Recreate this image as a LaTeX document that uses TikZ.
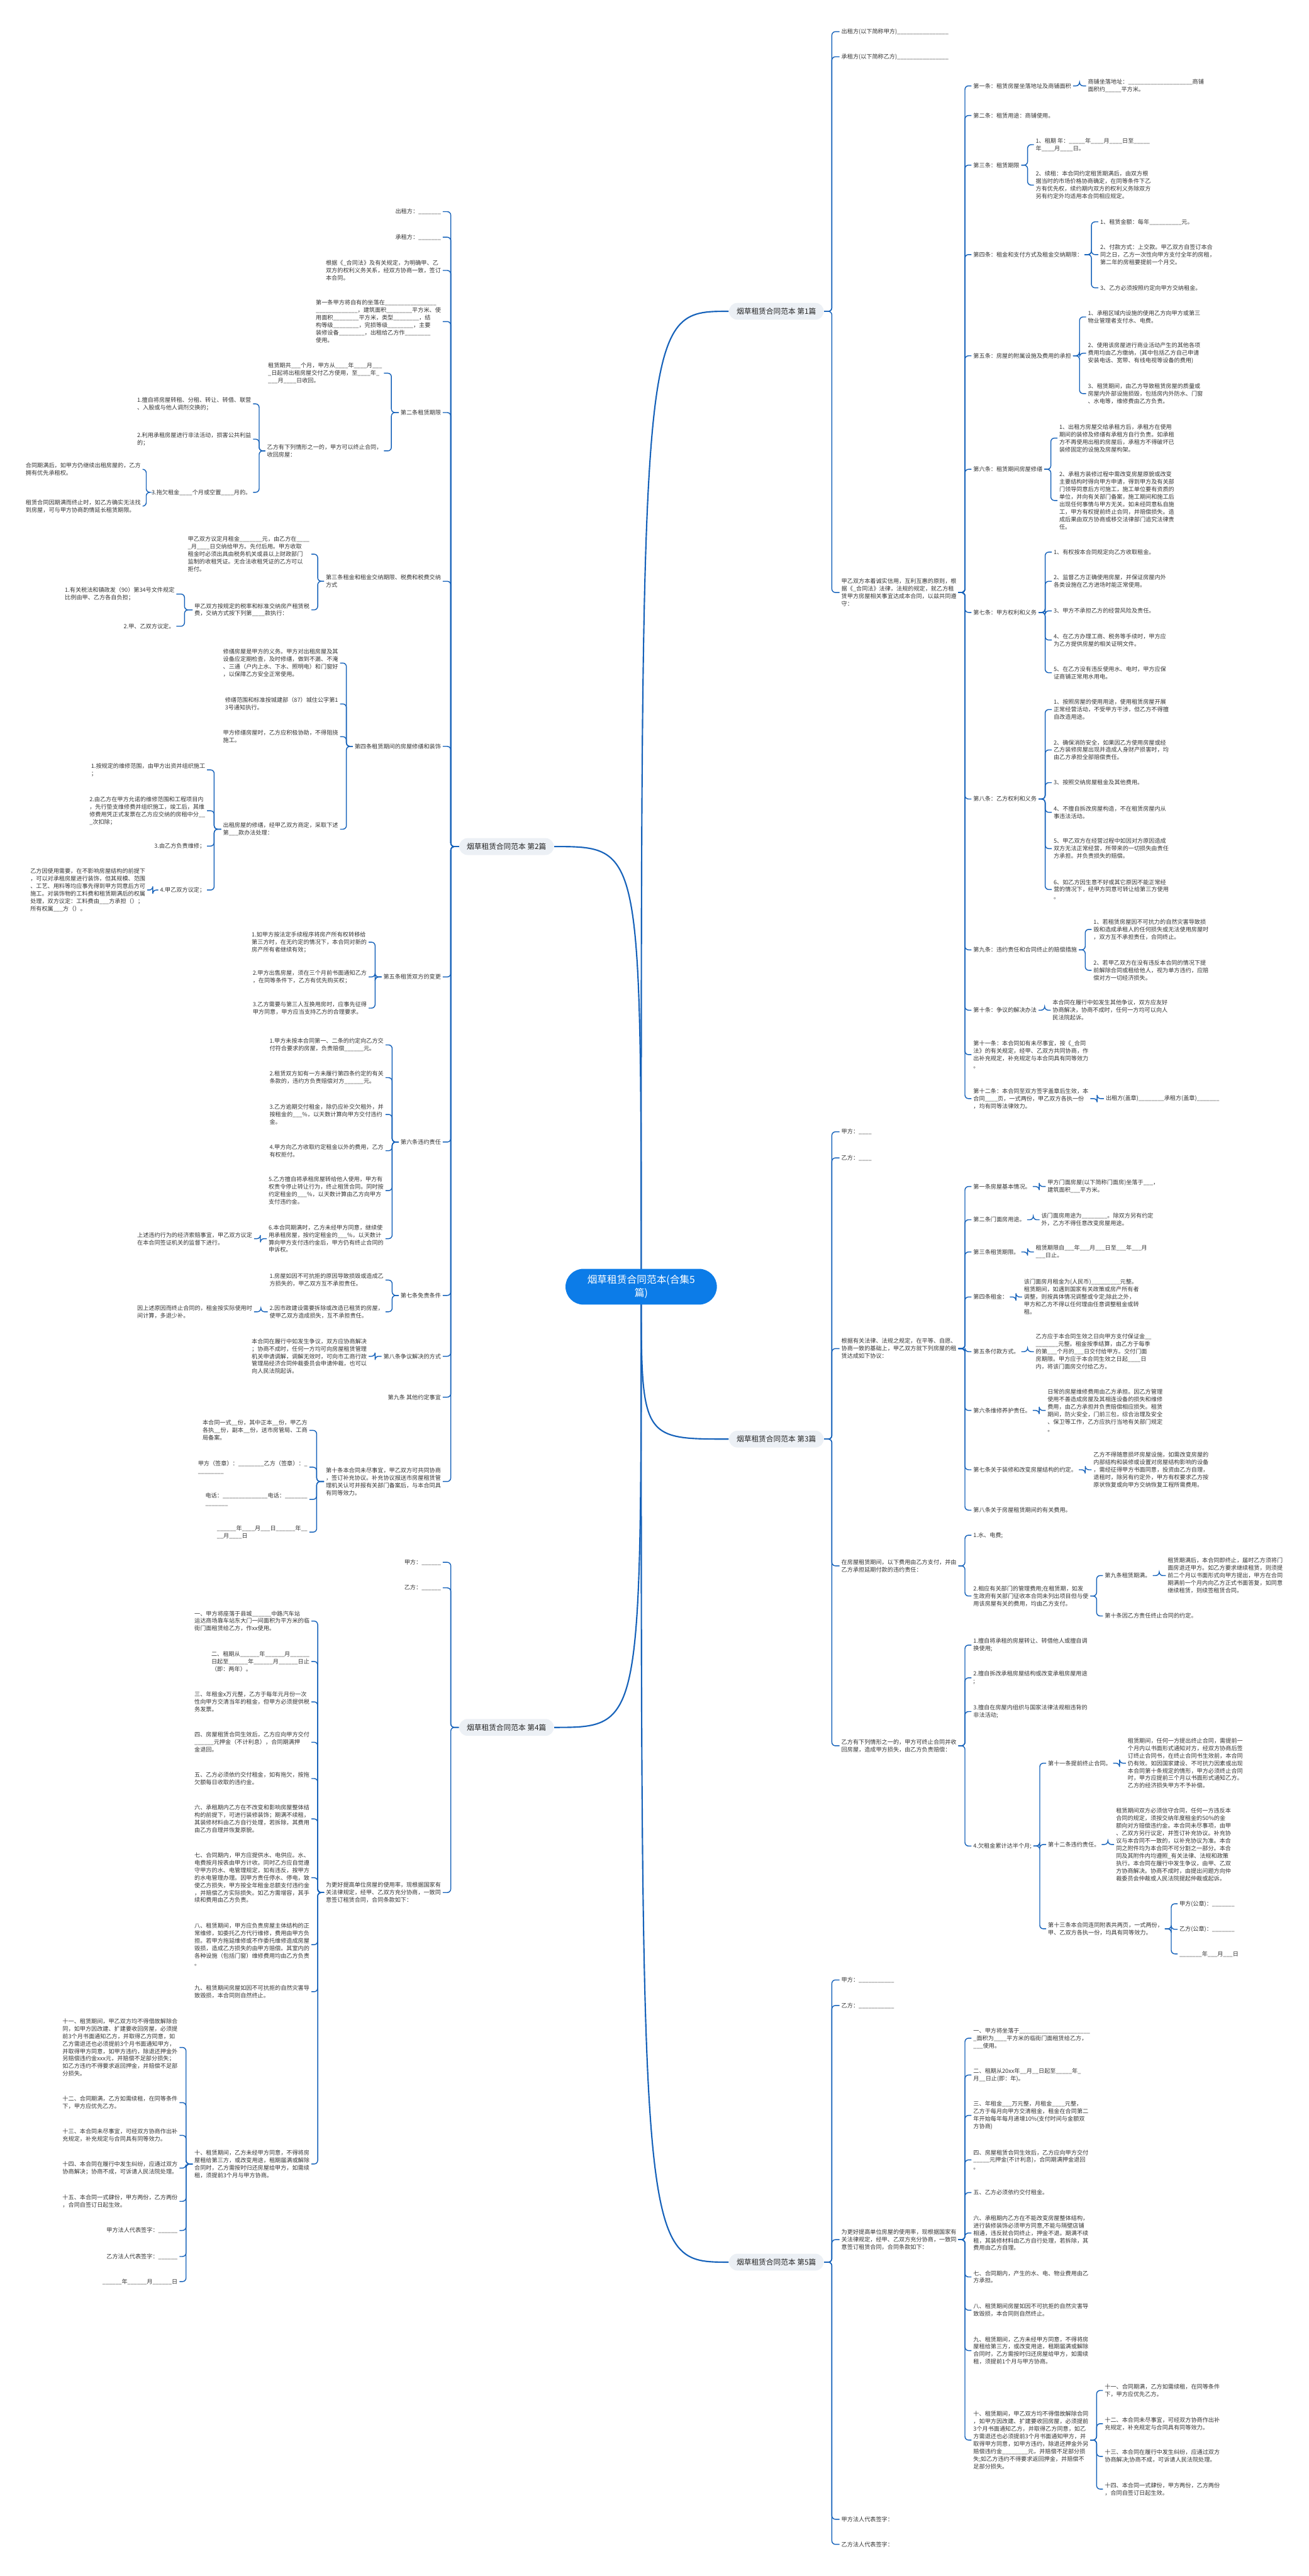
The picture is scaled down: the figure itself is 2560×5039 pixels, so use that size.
\documentclass[tikz,border=0pt]{standalone}
\usepackage{fontspec}
\setmainfont{Noto Sans CJK SC}
\usetikzlibrary{calc}
\definecolor{linkblue}{RGB}{22,98,186}
\definecolor{rootblue}{RGB}{12,124,232}
\definecolor{pillgray}{RGB}{236,240,245}
\definecolor{inkgray}{RGB}{51,51,51}
\newcommand\tsz{\fontsize{3.2pt}{4.18pt}\selectfont}
\newcommand\psz{\fontsize{4.1pt}{5pt}\selectfont}
\newcommand\rsz{\fontsize{5.5pt}{7.4pt}\selectfont}
\ExplSyntaxOn
\NewDocumentCommand\blk{m}{\prg_replicate:nn{#1}{\textunderscore}}
\ExplSyntaxOff
\pgfdeclarelayer{bg}
\pgfsetlayers{bg,main}
\tikzset{
  txt/.style={font=\tsz, text=inkgray, align=left, inner xsep=0.3mm, inner ysep=0.2mm},
  rt/.style={txt, anchor=west},
  lt/.style={txt, anchor=east},
  pill/.style={font=\psz, text=black!85, fill=pillgray, rounded corners=1.65mm, minimum height=3.3mm, inner xsep=1.5mm, inner ysep=0.3mm},
  rootbox/.style={font=\rsz, text=white, fill=rootblue, rounded corners=3.5mm, align=center, minimum width=29.6mm, minimum height=7mm, inner xsep=2mm, inner ysep=0.8mm},
  link/.style={draw=linkblue, line width=0.5pt, rounded corners=0.7mm},
  trunk/.style={draw=linkblue, line width=0.75pt}
}
\newcommand\rlink[2]{\draw[link] (#1.east) -- ($(#1.east)!.5!(#1.east -| #2.west)$) |- (#2.west);}
\newcommand\llink[2]{\draw[link] (#1.west) -- ($(#1.west)!.5!(#1.west -| #2.east)$) |- (#2.east);}
\begin{document}
\begin{tikzpicture}[x=0.1mm, y=-0.1mm]
\useasboundingbox (0,0) rectangle (2560,5039);
\node[rootbox] (root) at (1254,2517) {烟草租赁合同范本(合集5\\篇)};
\node[pill, anchor=west] (p1) at (1425,609) {烟草租赁合同范本 第1篇};
\node[pill, anchor=east] (p2) at (1084,1656) {烟草租赁合同范本 第2篇};
\node[pill, anchor=west] (p3) at (1425,2815) {烟草租赁合同范本 第3篇};
\node[pill, anchor=east] (p4) at (1084,3379) {烟草租赁合同范本 第4篇};
\node[pill, anchor=west] (p5) at (1425,4425) {烟草租赁合同范本 第5篇};
\begin{pgfonlayer}{bg}
\foreach \p in {p1,p3,p5} {\draw[trunk] (root.center) .. controls (root.center |- \p.west) .. (\p.west);}
\foreach \p in {p2,p4} {\draw[trunk] (root.center) .. controls (root.center |- \p.east) .. (\p.east);}
\end{pgfonlayer}

\node[rt] (a1) at (1642,62) {出租方(以下简称甲方)\blk{16}};
\node[rt] (a2) at (1642,111) {承租方(以下简称乙方)\blk{16}};
\node[rt] (a3) at (1642,1159) {甲乙双方本着诚实信用，互利互惠的原则，根\\据《\_合同法》法律，法规的规定，就乙方租\\赁甲方房屋相关事宜达成本合同，以兹共同遵\\守：};
\node[rt] (b1) at (1900,168) {第一条：租赁房屋坐落地址及商铺面积};
\node[rt] (b1a) at (2124,168) {商铺坐落地址：\blk{20}商铺\\面积约\blk{5}平方米。};
\node[rt] (b2) at (1900,226) {第二条：租赁用途：商铺使用。};
\node[rt] (b3) at (1900,323) {第三条：租赁期限};
\node[rt] (b3a) at (2022,283) {1、租期 年：\blk{5}年\blk{4}月\blk{4}日至\blk{5}\\年\blk{4}月\blk{4}日。};
\node[rt] (b3b) at (2022,362) {2、续租：本合同约定租赁期满后，由双方根\\据当时的市场价格协商确定，在同等条件下乙\\方有优先权，续约期内双方的权利义务除双方\\另有约定外均适用本合同相应规定。};
\node[rt] (b4) at (1900,498) {第四条：租金和支付方式及租金交纳期限：};
\node[rt] (b4a) at (2148,434) {1、租赁金额：每年\blk{10}元。};
\node[rt] (b4b) at (2148,498) {2、付款方式：上交款。甲乙双方自签订本合\\同之日，乙方一次性向甲方支付全年的房租，\\第二年的房租要提前一个月交。};
\node[rt] (b4c) at (2148,563) {3、乙方必须按照约定向甲方交纳租金。};
\node[rt] (b5) at (1900,696) {第五条：房屋的附属设施及费用的承担};
\node[rt] (b5a) at (2124,620) {1、承租区域内设施的使用乙方向甲方或第三\\物业管理者支付水、电费。};
\node[rt] (b5b) at (2124,691) {2、使用该房屋进行商业活动产生的其他各项\\费用均由乙方缴纳，(其中包括乙方自己申请\\安装电话、宽带、有线电视等设备的费用)};
\node[rt] (b5c) at (2124,770) {3、租赁期间，由乙方导致租赁房屋的质量或\\房屋内外部设施损毁，包括房内外防水、门窗\\、水电等，维修费由乙方负责。};
\node[rt] (b6) at (1900,918) {第六条：租赁期间房屋修缮};
\node[rt] (b6a) at (2068,857) {1、出租方房屋交给承租方后，承租方在使用\\期间的装修及修缮有承租方自行负责。如承租\\方不再使用出租的房屋后，承租方不得破坏已\\装修固定的设施及房屋构架。};
\node[rt] (b6b) at (2068,979) {2、承租方装修过程中需改变房屋原貌或改变\\主要结构时得向甲方申请，得到甲方及有关部\\门领导同意后方可施工，施工单位要有资质的\\单位，并向有关部门备案，施工期间和施工后\\出现任何事情与甲方无关。如未经同意私自施\\工，甲方有权提前终止合同，并赔偿损失。造\\成后果由双方协商或移交法律部门追究法律责\\任。};
\node[rt] (b7) at (1900,1198) {第七条：甲方权利和义务};
\node[rt] (b7a) at (2057,1080) {1、有权按本合同规定向乙方收取租金。};
\node[rt] (b7b) at (2057,1137) {2、监督乙方正确使用房屋，并保证房屋内外\\各类设施在乙方进场时能正常使用。};
\node[rt] (b7c) at (2057,1195) {3、甲方不承担乙方的经营风险及责任。};
\node[rt] (b7d) at (2057,1252) {4、在乙方办理工商、税务等手续时，甲方应\\为乙方提供房屋的相关证明文件。};
\node[rt] (b7e) at (2057,1316) {5、在乙方没有违反使用水、电时，甲方应保\\证商铺正常用水用电。};
\node[rt] (b8) at (1900,1563) {第八条：乙方权利和义务};
\node[rt] (b8a) at (2057,1388) {1、按照房屋的使用用途，使用租赁房屋开展\\正常经营活动，不受甲方干涉，但乙方不得擅\\自改造用途。};
\node[rt] (b8b) at (2057,1467) {2、确保消防安全，如果因乙方使用房屋或经\\乙方装修房屋出现并造成人身财产损害时，均\\由乙方承担全部赔偿责任。};
\node[rt] (b8c) at (2057,1531) {3、按照交纳房屋租金及其他费用。};
\node[rt] (b8d) at (2057,1589) {4、不擅自拆改房屋构造，不在租赁房屋内从\\事违法活动。};
\node[rt] (b8e) at (2057,1660) {5、甲乙双方在经营过程中如因对方原因造成\\双方无法正常经营，所带来的一切损失由责任\\方承担。并负责损失的赔偿。};
\node[rt] (b8f) at (2057,1740) {6、如乙方因生意不好或其它原因不能正常经\\营的情况下，经甲方同意可转让给第三方使用\\。};
\node[rt] (b9) at (1900,1858) {第九条：违约责任和合同终止的赔偿措施};
\node[rt] (b9a) at (2135,1818) {1、若租赁房屋因不可抗力的自然灾害导致损\\毁和造成承租人的任何损失或无法使用房屋时\\，双方互不承担责任，合同终止。};
\node[rt] (b9b) at (2135,1898) {2、若甲乙双方在没有违反本合同的情况下提\\前解除合同或租给他人，视为单方违约，应赔\\偿对方一切经济损失。};
\node[rt] (b10) at (1900,1976) {第十条：争议的解决办法};
\node[rt] (b10a) at (2055,1976) {本合同在履行中如发生其他争议，双方应友好\\协商解决，协商不成时，任何一方均可以向人\\民法院起诉。};
\node[rt] (b11) at (1900,2063) {第十一条：本合同如有未尽事宜，按《\_合同\\法》的有关规定，经甲、乙双方共同协商，作\\出补充规定，补充规定与本合同具有同等效力\\。};
\node[rt] (b12) at (1900,2149) {第十二条：本合同至双方签字盖章后生效，本\\合同\blk{4}页，一式两份，甲乙双方各执一份\\，均有同等法律效力。};
\node[rt] (b12a) at (2159,2149) {出租方(盖章)\blk{8}承租方(盖章)\blk{7}};
\foreach \c in {a1,a2,a3} {\rlink{p1}{\c}}
\foreach \c in {b1,b2,b3,b4,b5,b6,b7,b8,b9,b10,b11,b12} {\rlink{a3}{\c}}
\rlink{b1}{b1a}
\foreach \c in {b3a,b3b} {\rlink{b3}{\c}}
\foreach \c in {b4a,b4b,b4c} {\rlink{b4}{\c}}
\foreach \c in {b5a,b5b,b5c} {\rlink{b5}{\c}}
\foreach \c in {b6a,b6b} {\rlink{b6}{\c}}
\foreach \c in {b7a,b7b,b7c,b7d,b7e} {\rlink{b7}{\c}}
\foreach \c in {b8a,b8b,b8c,b8d,b8e,b8f} {\rlink{b8}{\c}}
\foreach \c in {b9a,b9b} {\rlink{b9}{\c}}
\rlink{b10}{b10a}
\rlink{b12}{b12a}

\node[lt] (k1) at (866,414) {出租方：\blk{7}};
\node[lt] (k2) at (866,464) {承租方：\blk{7}};
\node[lt] (k3) at (866,529) {根据《\_合同法》及有关规定，为明确甲、乙\\双方的权利义务关系，经双方协商一致，签订\\本合同。};
\node[lt] (k4) at (866,629) {第一条甲方将自有的坐落在\blk{16}\\\blk{13}，建筑面积\blk{8}平方米、使\\用面积\blk{8}平方米，类型\blk{8}，结\\构等级\blk{8}，完损等级\blk{8}，主要\\装修设备\blk{8}，出租给乙方作\blk{8}\\使用。};
\node[lt] (k5) at (866,807) {第二条租赁期限};
\node[lt] (k5a) at (751,730) {租赁期共\blk{3}个月，甲方从\blk{4}年\blk{4}月\blk{3}\\\blk{1}日起将出租房屋交付乙方使用，至\blk{4}年\blk{1}\\\blk{3}月\blk{4}日收回。};
\node[lt] (k5b) at (751,882) {乙方有下列情形之一的，甲方可以终止合同，\\收回房屋：};
\node[lt] (k5b1) at (495,790) {1.擅自将房屋转租、分租、转让、转借、联营\\、入股或与他人调剂交换的；};
\node[lt] (k5b2) at (495,859) {2.利用承租房屋进行非法活动，损害公共利益\\的；};
\node[lt] (k5b3) at (495,963) {3.拖欠租金\blk{4}个月或空置\blk{4}月的。};
\node[lt] (k5b3a) at (279,918) {合同期满后，如甲方仍继续出租房屋的，乙方\\拥有优先承租权。};
\node[lt] (k5b3b) at (279,990) {租赁合同因期满而终止时，如乙方确实无法找\\到房屋，可与甲方协商酌情延长租赁期限。};
\node[lt] (k6) at (866,1137) {第三条租金和租金交纳期限、税费和税费交纳\\方式};
\node[lt] (k6a) at (609,1084) {甲乙双方议定月租金\blk{7}元，由乙方在\blk{4}\\\blk{1}月\blk{4}日交纳给甲方。先付后用。甲方收取\\租金时必须出具由税务机关或县以上财政部门\\监制的收租凭证。无合法收租凭证的乙方可以\\拒付。};
\node[lt] (k6b) at (609,1193) {甲乙双方按规定的税率和标准交纳房产租赁税\\费，交纳方式按下列第\blk{4}款执行：};
\node[lt] (k6b1) at (345,1162) {1.有关税法和镇政发（90）第34号文件规定\\比例由甲、乙方各自负担；};
\node[lt] (k6b2) at (345,1225) {2.甲、乙双方议定。};
\node[lt] (k7) at (866,1460) {第四条租赁期间的房屋修缮和装饰};
\node[lt] (k7a) at (665,1297) {修缮房屋是甲方的义务。甲方对出租房屋及其\\设备应定期检查，及时修缮，做到不漏、不淹\\、三通（户内上水、下水、照明电）和门窗好\\，以保障乙方安全正常使用。};
\node[lt] (k7b) at (665,1377) {修缮范围和标准按城建部（87）城住公字第1\\3号通知执行。};
\node[lt] (k7c) at (665,1441) {甲方修缮房屋时，乙方应积极协助，不得阻挠\\施工。};
\node[lt] (k7d) at (665,1622) {出租房屋的修缮，经甲乙双方商定，采取下述\\第\blk{3}款办法处理：};
\node[lt] (k7d1) at (405,1506) {1.按规定的维修范围，由甲方出资并组织施工\\；};
\node[lt] (k7d2) at (405,1586) {2.由乙方在甲方允诺的维修范围和工程项目内\\，先行垫支维修费并组织施工，竣工后，其维\\修费用凭正式发票在乙方应交纳的房租中分\blk{2}\\\blk{1}次扣除；};
\node[lt] (k7d3) at (405,1655) {3.由乙方负责维修；};
\node[lt] (k7d4) at (405,1741) {4.甲乙双方议定；};
\node[lt] (k7d4a) at (288,1741) {乙方因使用需要，在不影响房屋结构的前提下\\，可以对承租房屋进行装饰，但其规模、范围\\、工艺、用料等均应事先得到甲方同意后方可\\施工。对装饰物的工料费和租赁期满后的权属\\处理，双方议定：工料费由\blk{3}方承担（）；\\所有权属\blk{3}方（）。};
\node[lt] (k8) at (866,1911) {第五条租赁双方的变更};
\node[lt] (k8a) at (721,1843) {1.如甲方按法定手续程序将房产所有权转移给\\第三方时，在无约定的情况下，本合同对新的\\房产所有者继续有效；};
\node[lt] (k8b) at (721,1911) {2.甲方出售房屋，须在三个月前书面通知乙方\\，在同等条件下，乙方有优先购买权；};
\node[lt] (k8c) at (721,1972) {3.乙方需要与第三人互换用房时，应事先征得\\甲方同意，甲方应当支持乙方的合理要求。};
\node[lt] (k9) at (866,2234) {第六条违约责任};
\node[lt] (k9a) at (754,2044) {1.甲方未按本合同第一、二条的约定向乙方交\\付符合要求的房屋，负责赔偿\blk{6}元。};
\node[lt] (k9b) at (754,2108) {2.租赁双方如有一方未履行第四条约定的有关\\条款的，违约方负责赔偿对方\blk{6}元。};
\node[lt] (k9c) at (754,2180) {3.乙方逾期交付租金，除仍应补交欠租外，并\\按租金的\blk{3}\%，以天数计算向甲方交付违约\\金。};
\node[lt] (k9d) at (754,2251) {4.甲方向乙方收取约定租金以外的费用，乙方\\有权拒付。};
\node[lt] (k9e) at (754,2329) {5.乙方擅自将承租房屋转给他人使用，甲方有\\权责令停止转让行为，终止租赁合同。同时按\\约定租金的\blk{3}\%，以天数计算由乙方向甲方\\支付违约金。};
\node[lt] (k9f) at (754,2423) {6.本合同期满时，乙方未经甲方同意，继续使\\用承租房屋，按约定租金的\blk{3}\%，以天数计\\算向甲方支付违约金后，甲方仍有终止合同的\\申诉权。};
\node[lt] (k9f1) at (497,2423) {上述违约行为的经济索赔事宜，甲乙双方议定\\在本合同签证机关的监督下进行。};
\node[lt] (k10) at (866,2534) {第七条免责条件};
\node[lt] (k10a) at (754,2504) {1.房屋如因不可抗拒的原因导致损毁或造成乙\\方损失的，甲乙双方互不承担责任。};
\node[lt] (k10b) at (754,2566) {2.因市政建设需要拆除或改造已租赁的房屋，\\使甲乙双方造成损失，互不承担责任。};
\node[lt] (k10b1) at (497,2566) {因上述原因而终止合同的，租金按实际使用时\\间计算，多退少补。};
\node[lt] (k11) at (866,2653) {第八条争议解决的方式};
\node[lt] (k11a) at (721,2653) {本合同在履行中如发生争议，双方应协商解决\\；协商不成时，任何一方均可向房屋租赁管理\\机关申请调解，调解无效时，可向市工商行政\\管理局经济合同仲裁委员会申请仲裁，也可以\\向人民法院起诉。};
\node[lt] (k12) at (866,2733) {第九条 其他约定事宜};
\node[lt] (k13) at (866,2898) {第十条本合同未尽事宜，甲乙双方可共同协商\\，签订补充协议。补充协议报送市房屋租赁管\\理机关认可并报有关部门备案后，与本合同具\\有同等效力。};
\node[lt] (k13a) at (605,2798) {本合同一式\blk{2}份，其中正本\blk{2}份，甲乙方\\各执\blk{2}份，副本\blk{2}份，送市房管局、工商\\局备案。};
\node[lt] (k13b) at (605,2870) {甲方（签章）：\blk{8}乙方（签章）：\blk{1}\\\blk{8}};
\node[lt] (k13c) at (605,2933) {电话：\blk{14}电话：\blk{7}\\\blk{7}};
\node[lt] (k13d) at (605,2997) {\blk{6}年\blk{4}月\blk{3}日\blk{6}年\blk{2}\\\blk{2}月\blk{4}日};
\foreach \c in {k1,k2,k3,k4,k5,k6,k7,k8,k9,k10,k11,k12,k13} {\llink{p2}{\c}}
\foreach \c in {k5a,k5b} {\llink{k5}{\c}}
\foreach \c in {k5b1,k5b2,k5b3} {\llink{k5b}{\c}}
\foreach \c in {k5b3a,k5b3b} {\llink{k5b3}{\c}}
\foreach \c in {k6a,k6b} {\llink{k6}{\c}}
\foreach \c in {k6b1,k6b2} {\llink{k6b}{\c}}
\foreach \c in {k7a,k7b,k7c,k7d} {\llink{k7}{\c}}
\foreach \c in {k7d1,k7d2,k7d3,k7d4} {\llink{k7d}{\c}}
\llink{k7d4}{k7d4a}
\foreach \c in {k8a,k8b,k8c} {\llink{k8}{\c}}
\foreach \c in {k9a,k9b,k9c,k9d,k9e,k9f} {\llink{k9}{\c}}
\llink{k9f}{k9f1}
\foreach \c in {k10a,k10b} {\llink{k10}{\c}}
\llink{k10b}{k10b1}
\llink{k11}{k11a}
\foreach \c in {k13a,k13b,k13c,k13d} {\llink{k13}{\c}}

\node[rt] (c1) at (1642,2214) {甲方：\blk{4}};
\node[rt] (c2) at (1642,2265) {乙方：\blk{4}};
\node[rt] (c3) at (1642,2638) {根据有关法律、法规之规定，在平等、自愿、\\协商一致的基础上，甲乙双方就下列房屋的租\\赁达成如下协议：};
\node[rt] (d1) at (1900,2321) {第一条房屋基本情况。};
\node[rt] (d1a) at (2045,2321) {甲方门面房屋(以下简称门面房)坐落于\blk{3}，\\建筑面积\blk{3}平方米。};
\node[rt] (d2) at (1900,2386) {第二条门面房用途。};
\node[rt] (d2a) at (2033,2386) {该门面房用途为\blk{8}。除双方另有约定\\外，乙方不得任意改变房屋用途。};
\node[rt] (d3) at (1900,2449) {第三条租赁期限。};
\node[rt] (d3a) at (2022,2449) {租赁期限自\blk{3}年\blk{3}月\blk{3}日至\blk{3}年\blk{3}月\\\blk{3}日止。};
\node[rt] (d4) at (1900,2537) {第四条租金：};
\node[rt] (d4a) at (1999,2537) {该门面房月租金为(人民币)\blk{9}元整。\\租赁期间，如遇到国家有关政策或房产所有者\\调整，则按具体情况调整或令定;除此之外，\\甲方和乙方不得以任何理由任意调整租金或转\\租。};
\node[rt] (d5) at (1900,2644) {第五条付款方式。};
\node[rt] (d5a) at (2022,2644) {乙方应于本合同生效之日向甲方支付保证金\blk{2}\\\blk{7}元整。租金按季结算，由乙方于每季\\的第\blk{3}个月的\blk{3}日交付给甲方。交付门面\\房期限。甲方应于本合同生效之日起\blk{4}日\\内，将该门面房交付给乙方。};
\node[rt] (d6) at (1900,2759) {第六条维修养护责任。};
\node[rt] (d6a) at (2045,2759) {日常的房屋维修费用由乙方承担。因乙方管理\\使用不善造成房屋及其相连设备的损失和维修\\费用，由乙方承担并负责赔偿相应损失。租赁\\期间，防火安全，门前三包，综合治理及安全\\、保卫等工作，乙方应执行当地有关部门规定\\。};
\node[rt] (d7) at (1900,2875) {第七条关于装修和改变房屋结构的约定。};
\node[rt] (d7a) at (2135,2875) {乙方不得随意损坏房屋设施，如需改变房屋的\\内部结构和装修或设置对房屋结构影响的设备\\，需经征得甲方书面同意，投资由乙方自理，\\退租时，除另有约定外，甲方有权要求乙方按\\原状恢复或向甲方交纳恢复工程所需费用。};
\node[rt] (d8) at (1900,2954) {第八条关于房屋租赁期间的有关费用。};
\node[rt] (c4) at (1642,3063) {在房屋租赁期间，以下费用由乙方支付，并由\\乙方承担延期付款的违约责任：};
\node[rt] (e1) at (1900,3003) {1.水、电费;};
\node[rt] (e2) at (1900,3122) {2.相应有关部门的管理费用;在租赁期，如发\\生政府有关部门征收本合同未列出项目但与使\\用该房屋有关的费用，均由乙方支付。};
\node[rt] (e2a) at (2157,3082) {第九条租赁期满。};
\node[rt] (e2a1) at (2280,3082) {租赁期满后，本合同即终止，届时乙方须将门\\面房退还甲方。如乙方要求继续租赁，则须提\\前二个月以书面形式向甲方提出，甲方在合同\\期满前一个月内向乙方正式书面答复，如同意\\继续租赁，则续签租赁合同。};
\node[rt] (e2b) at (2157,3161) {第十条因乙方责任终止合同的约定。};
\node[rt] (c5) at (1642,3415) {乙方有下列情形之一的，甲方可终止合同并收\\回房屋，造成甲方损失，由乙方负责赔偿：};
\node[rt] (f1) at (1900,3218) {1.擅自将承租的房屋转让、转借他人或擅自调\\换使用;};
\node[rt] (f2) at (1900,3282) {2.擅自拆改承租房屋结构或改变承租房屋用途\\;};
\node[rt] (f3) at (1900,3348) {3.擅自在房屋内组织与国家法律法规相违背的\\非法活动;};
\node[rt] (f4) at (1900,3611) {4.欠租金累计达半个月;};
\node[rt] (f4a) at (2046,3449) {第十一条提前终止合同。};
\node[rt] (f4a1) at (2202,3449) {租赁期间，任何一方提出终止合同，需提前一\\个月内以书面形式通知对方，经双方协商后签\\订终止合同书，在终止合同书生效前，本合同\\仍有效。如因国家建设、不可抗力因素或出现\\本合同第十条规定的情形，甲方必须终止合同\\时，甲方应提前三个月以书面形式通知乙方。\\乙方的经济损失甲方不予补偿。};
\node[rt] (f4b) at (2046,3608) {第十二条违约责任。};
\node[rt] (f4b1) at (2179,3608) {租赁期间双方必须信守合同，任何一方违反本\\合同的规定，须按交纳年度租金的50\%的金\\额向对方赔偿违约金。本合同未尽事项，由甲\\、乙双方另行议定，并签订补充协议。补充协\\议与本合同不一致的，以补充协议为准。本合\\同之附件均为本合同不可分割之一部分。本合\\同及其附件内均遵照\_有关法律、法规和政策\\执行。本合同在履行中发生争议，由甲、乙双\\方协商解决。协商不成时，由提出问题方向仲\\裁委员会仲裁或人民法院提起仲裁或起诉。};
\node[rt] (f4c) at (2046,3773) {第十三条本合同连同附表共两页，一式两份，\\甲、乙双方各执一份，均具有同等效力。};
\node[rt] (f4c1) at (2303,3724) {甲方(公章)：\blk{7}};
\node[rt] (f4c2) at (2303,3774) {乙方(公章)：\blk{7}};
\node[rt] (f4c3) at (2303,3822) {\blk{7}年\blk{3}月\blk{3}日};
\foreach \c in {c1,c2,c3,c4,c5} {\rlink{p3}{\c}}
\foreach \c in {d1,d2,d3,d4,d5,d6,d7,d8} {\rlink{c3}{\c}}
\rlink{d1}{d1a}
\rlink{d2}{d2a}
\rlink{d3}{d3a}
\rlink{d4}{d4a}
\rlink{d5}{d5a}
\rlink{d6}{d6a}
\rlink{d7}{d7a}
\foreach \c in {e1,e2} {\rlink{c4}{\c}}
\foreach \c in {e2a,e2b} {\rlink{e2}{\c}}
\rlink{e2a}{e2a1}
\foreach \c in {f1,f2,f3,f4} {\rlink{c5}{\c}}
\foreach \c in {f4a,f4b,f4c} {\rlink{f4}{\c}}
\rlink{f4a}{f4a1}
\rlink{f4b}{f4b1}
\foreach \c in {f4c1,f4c2,f4c3} {\rlink{f4c}{\c}}

\node[lt] (m1) at (866,3056) {甲方：\blk{6}};
\node[lt] (m2) at (866,3106) {乙方：\blk{6}};
\node[lt] (m3) at (866,3702) {为更好提高单位房屋的使用率，现根据国家有\\关法律规定，经甲、乙双方充分协商，一致同\\意签订租赁合同，合同条款如下：};
\node[lt] (n1) at (609,3171) {一、甲方将座落于县城\blk{6}中路汽车站\\运达商场靠车站东大门一间面积为平方米的临\\街门面租赁给乙方，作xx使用。};
\node[lt] (n2) at (609,3250) {二、租期从\blk{6}年\blk{6}月\blk{6}\\日起至\blk{6}年\blk{6}月\blk{6}日止\\（即：两年）。};
\node[lt] (n3) at (609,3329) {三、年租金x万元整，乙方于每年元月份一次\\性向甲方交清当年的租金，但甲方必须提供税\\务发票。};
\node[lt] (n4) at (609,3408) {四、房屋租赁合同生效后，乙方应向甲方交付\\\blk{6}元押金（不计利息），合同期满押\\金退回。};
\node[lt] (n5) at (609,3479) {五、乙方必须依约交付租金，如有拖欠，按拖\\欠额每日收取的违约金。};
\node[lt] (n6) at (609,3558) {六、承租期内乙方在不改变和影响房屋整体结\\构的前提下，可进行装修装饰；期满不续租，\\其装修材料由乙方自行处理，若拆除，其费用\\由乙方自理并恢复原貌。};
\node[lt] (n7) at (609,3673) {七、合同期内，甲方应提供水、电供应。水、\\电费按月按表由甲方计收。同时乙方应自觉遵\\守甲方的水、电管理规定，如有违反，按甲方\\的水电管理办理。因甲方责任停水、停电，致\\使乙方损失，甲方按全年租金总额支付违约金\\，并赔偿乙方实际损失。如乙方需增容，其手\\续和费用由乙方负责。};
\node[lt] (n8) at (609,3804) {八、租赁期间，甲方应负责房屋主体结构的正\\常维修，如委托乙方代行维修，费用由甲方负\\担。若甲方拖延维修或不作委托维修造成房屋\\毁损，造成乙方损失的由甲方赔偿。其室内的\\各种设施（包括门窗）维修费用均由乙方负责\\。};
\node[lt] (n9) at (609,3896) {九、租赁期间房屋如因不可抗拒的自然灾害导\\致毁损，本合同则自然终止。};
\node[lt] (n10) at (609,4233) {十、租赁期间，乙方未经甲方同意，不得将房\\屋租给第三方，或改变用途，租期届满或解除\\合同时，乙方需按时归还房屋给甲方，如需续\\租，须提前3个月与甲方协商。};
\node[lt] (n10a) at (351,4005) {十一、租赁期间，甲乙双方均不得借故解除合\\同，如甲方因改建、扩建要收回房屋，必须提\\前3个月书面通知乙方，并取得乙方同意，如\\乙方需退还也必须提前3个月书面通知甲方，\\并取得甲方同意，如甲方违约，除退还押金外\\另赔偿违约金xxx元，并赔偿不足部分损失；\\如乙方违约不得要求返回押金，并赔偿不足部\\分损失。};
\node[lt] (n10b) at (351,4113) {十二、合同期满，乙方如需续租，在同等条件\\下，甲方应优先乙方。};
\node[lt] (n10c) at (351,4177) {十三、本合同未尽事宜，可经双方协商作出补\\充规定，补充规定与合同具有同等效力。};
\node[lt] (n10d) at (351,4241) {十四、本合同在履行中发生纠纷，应通过双方\\协商解决；协商不成，可诉请人民法院处理。};
\node[lt] (n10e) at (351,4306) {十五、本合同一式肆份，甲方两份，乙方两份\\，合同自签订日起生效。};
\node[lt] (n10f) at (351,4363) {甲方法人代表签字：\blk{6}};
\node[lt] (n10g) at (351,4414) {乙方法人代表签字：\blk{6}};
\node[lt] (n10h) at (351,4463) {\blk{6}年\blk{6}月\blk{6}日};
\foreach \c in {m1,m2,m3} {\llink{p4}{\c}}
\foreach \c in {n1,n2,n3,n4,n5,n6,n7,n8,n9,n10} {\llink{m3}{\c}}
\foreach \c in {n10a,n10b,n10c,n10d,n10e,n10f,n10g,n10h} {\llink{n10}{\c}}

\node[rt] (g1) at (1642,3873) {甲方：\blk{11}};
\node[rt] (g2) at (1642,3923) {乙方：\blk{11}};
\node[rt] (g3) at (1642,4381) {为更好提高单位房屋的使用率，现根据国家有\\关法律规定，经甲、乙双方充分协商，一致同\\意签订租赁合同，合同条款如下：};
\node[rt] (h1) at (1900,3987) {一、甲方将坐落于\blk{22}\\\blk{1}面积为\blk{4}平方米的临街门面租赁给乙方，\\\blk{3}使用。};
\node[rt] (h2) at (1900,4059) {二、租期从20xx年\blk{2}月\blk{2}日起至\blk{5}年\blk{1}\\月\blk{2}日止(即：年)。};
\node[rt] (h3) at (1900,4138) {三、年租金\blk{3}万元整，月租金\blk{4}元整，\\乙方于每月向甲方交清租金，租金在合同第二\\年开始每年每月递增10\%(支付时间与金额双\\方协商)};
\node[rt] (h4) at (1900,4225) {四、房屋租赁合同生效后，乙方应向甲方交付\\\blk{5}元押金(不计利息)，合同期满押金退回\\。};
\node[rt] (h5) at (1900,4289) {五、乙方必须依约交付租金。};
\node[rt] (h6) at (1900,4368) {六、承租期内乙方在不能改变房屋整体结构，\\进行装修装饰必须甲方同意,不能与隔壁店铺\\相通，违反就合同终止，押金不退。期满不续\\租，其装修材料由乙方自行处理，若拆除，其\\费用由乙方自理。};
\node[rt] (h7) at (1900,4454) {七、合同期内，产生的水、电、物业费用由乙\\方承担。};
\node[rt] (h8) at (1900,4519) {八、租赁期间房屋如因不可抗拒的自然灾害导\\致毁损，本合同则自然终止。};
\node[rt] (h9) at (1900,4598) {九、租赁期间，乙方未经甲方同意，不得将房\\屋租给第三方，或改变用途，租期届满或解除\\合同时，乙方需按时归还房屋给甲方，如需续\\租，须提前1个月与甲方协商。};
\node[rt] (h10) at (1900,4773) {十、租赁期间，甲乙双方均不得借故解除合同\\，如甲方因改建、扩建要收回房屋，必须提前\\3个月书面通知乙方，并取得乙方同意，如乙\\方需退还也必须提前3个月书面通知甲方，并\\取得甲方同意，如甲方违约，除退还押金外另\\赔偿违约金\blk{8}元，并赔偿不足部分损\\失;如乙方违约不得要求返回押金，并赔偿不\\足部分损失。};
\node[rt] (h10a) at (2157,4676) {十一、合同期满，乙方如需续租，在同等条件\\下，甲方应优先乙方。};
\node[rt] (h10b) at (2157,4741) {十二、本合同未尽事宜，可经双方协商作出补\\充规定，补充规定与合同具有同等效力。};
\node[rt] (h10c) at (2157,4805) {十三、本合同在履行中发生纠纷，应通过双方\\协商解决;协商不成，可诉请人民法院处理。};
\node[rt] (h10d) at (2157,4869) {十四、本合同一式肆份，甲方两份，乙方两份\\，合同自签订日起生效。};
\node[rt] (g4) at (1642,4928) {甲方法人代表签字：};
\node[rt] (g5) at (1642,4977) {乙方法人代表签字：};
\foreach \c in {g1,g2,g3,g4,g5} {\rlink{p5}{\c}}
\foreach \c in {h1,h2,h3,h4,h5,h6,h7,h8,h9,h10} {\rlink{g3}{\c}}
\foreach \c in {h10a,h10b,h10c,h10d} {\rlink{h10}{\c}}
\end{tikzpicture}
\end{document}
